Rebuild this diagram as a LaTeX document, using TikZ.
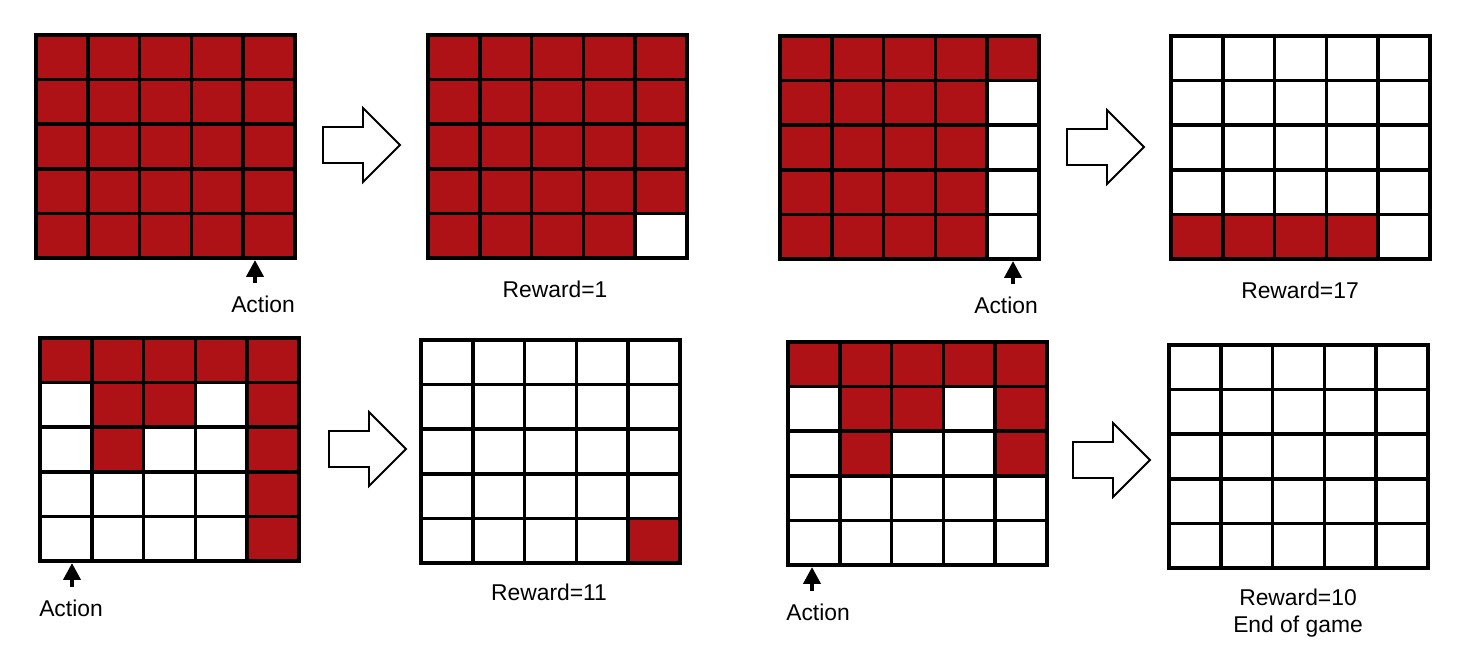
\documentclass[tikz,border=0pt]{standalone}
\usepackage{fontspec}
\setmainfont{Liberation Sans}
\usetikzlibrary{arrows.meta}

\definecolor{brick}{RGB}{174,18,23}

\tikzset{
  cellline/.style={line width=2pt},
  txt/.style={font=\fontsize{13}{16}\selectfont, inner sep=0pt, anchor=base},
  actarrow/.style={-{Triangle[width=9.6pt,length=9.6pt]}, line width=2.3pt, shorten <=0.24cm},
  fwd/.pic={
    \draw[line width=1.1pt, fill=white]
      (0,-18) -- (40,-18) -- (40,-37) -- (77,0) -- (40,37) -- (40,18) -- (0,18) -- cycle;
  }
}

% red cells, given as blocks col1/row1/col2/row2
\newcommand{\cells}[1]{%
  \foreach \ca/\ra/\cb/\rb in {#1}
    \fill[brick] (\ca*51.8,\ra*44.6) rectangle ({(\cb+1)*51.8},{(\rb+1)*44.6});}
% the 5x5 lines of one board
\newcommand{\boardlines}{%
  \foreach \i in {1,...,4} {
    \draw[cellline] (\i*51.8,0) -- (\i*51.8,223);
    \draw[cellline] (0,\i*44.6) -- (259,\i*44.6);
  }
  \draw[cellline] (0,0) rectangle (259,223);}

\begin{document}
\begin{tikzpicture}[x=0.02cm, y=-0.02cm]
  \useasboundingbox (0,0) rectangle (1470,660);

  % Top row
  \begin{scope}[shift={(36,35)}]
    \cells{0/0/4/4}
    \boardlines
  \end{scope}
  \begin{scope}[shift={(428,35)}]
    \cells{0/0/4/3, 0/4/3/4}
    \boardlines
  \end{scope}
  \begin{scope}[shift={(780,36)}]
    \cells{0/0/4/0, 0/1/3/4}
    \boardlines
  \end{scope}
  \begin{scope}[shift={(1171,36)}]
    \cells{0/4/3/4}
    \boardlines
  \end{scope}

  % Bottom row
  \begin{scope}[shift={(40,338)}]
    \cells{0/0/4/0, 1/1/2/1, 1/2/1/2, 4/1/4/4}
    \boardlines
  \end{scope}
  \begin{scope}[shift={(421,340)}]
    \cells{4/4/4/4}
    \boardlines
  \end{scope}
  \begin{scope}[shift={(788,342)}]
    \cells{0/0/4/0, 1/1/2/1, 1/2/1/2, 4/1/4/2}
    \boardlines
  \end{scope}
  \begin{scope}[shift={(1169,345)}]
    \boardlines
  \end{scope}

  % Transitions
  \pic at (323,145) {fwd};
  \pic at (1067,147) {fwd};
  \pic at (329,449) {fwd};
  \pic at (1073,460) {fwd};

  % Actions
  \coordinate (t1) at (255,260);
  \coordinate (t2) at (1013,261);
  \coordinate (t3) at (72,563);
  \coordinate (t4) at (812,567);
  \node[txt] (act1) at (263,312) {Action};
  \node[txt] (act2) at (1006,313) {Action};
  \node[txt] (act3) at (71,616) {Action};
  \node[txt] (act4) at (818,620) {Action};
  \draw[actarrow] (act1.north -| t1) -- (t1);
  \draw[actarrow] (act2.north -| t2) -- (t2);
  \draw[actarrow] (act3.north -| t3) -- (t3);
  \draw[actarrow] (act4.north -| t4) -- (t4);

  % Rewards
  \node[txt] (rew1) at (555,297) {Reward=1};
  \node[txt] (rew2) at (1300,298) {Reward=17};
  \node[txt] (rew3) at (549,600) {Reward=11};
  \node[txt] (rew4) at (1298,605) {Reward=10};
  \node[txt] (over) at (1298,632) {End of game};
\end{tikzpicture}
\end{document}
